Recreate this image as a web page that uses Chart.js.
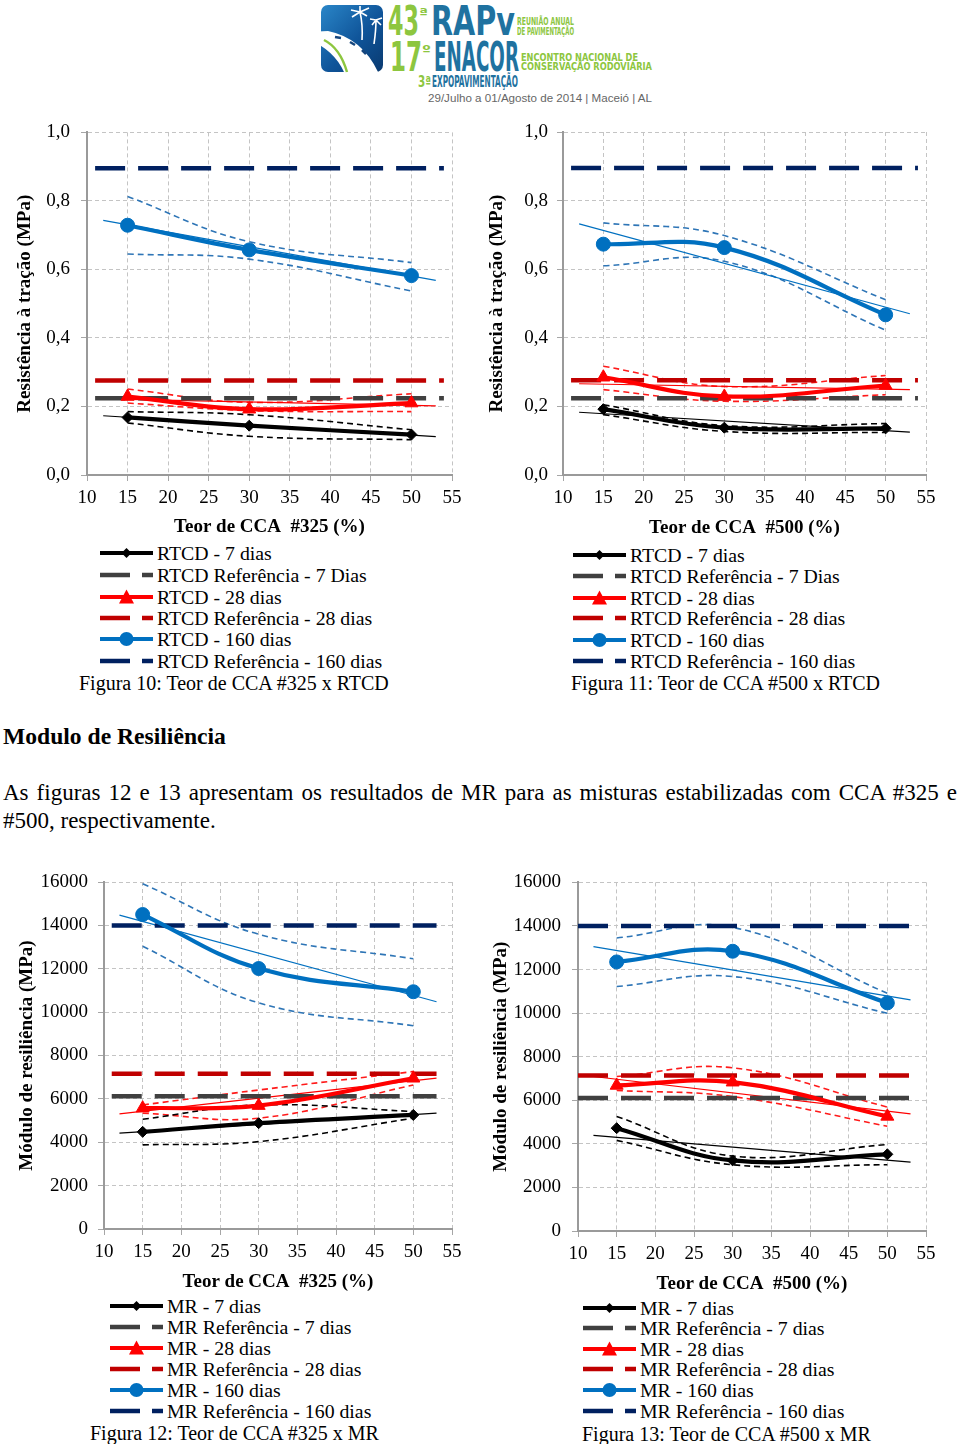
<!DOCTYPE html>
<html><head><meta charset="utf-8">
<script src="https://cdn.jsdelivr.net/npm/chart.js@4.4.1/dist/chart.umd.min.js"></script>
<style>
html,body{margin:0;padding:0;background:#fff;}
body{width:960px;height:1444px;position:relative;overflow:hidden;font-family:'Liberation Serif','Times New Roman',serif;color:#000;}
.abs{position:absolute;}
canvas{position:absolute;}
.leg{position:absolute;display:flex;align-items:center;height:22px;font-size:19.8px;line-height:22px;white-space:pre;}
.leg svg{margin-right:4px;flex:none;}
.cap{position:absolute;font-size:20px;line-height:22px;white-space:pre;}
#head{position:absolute;left:3px;top:722px;font-weight:bold;font-size:23.6px;line-height:28px;white-space:pre;}
#para{position:absolute;left:3px;top:779px;width:954px;font-size:23px;line-height:28px;}
#para .l1{display:block;text-align:justify;text-align-last:justify;}
</style></head><body>

<svg class="abs" style="left:300px;top:0" width="360" height="110" viewBox="0 0 360 110">
<defs>
<linearGradient id="gb" x1="0" y1="0" x2="1" y2="1"><stop offset="0" stop-color="#2a86c8"/><stop offset="0.55" stop-color="#0f5499"/><stop offset="1" stop-color="#0a3a70"/></linearGradient>
</defs>
<rect x="21" y="5" width="62" height="67" rx="7" fill="url(#gb)"/>
<path d="M8 32 L28 31 Q62 38 78 72 L44 72 Q34 50 8 39 Z" fill="#ffffff"/>
<path d="M24 40 Q40 48 47 72" stroke="#8dc63f" stroke-width="2.5" fill="none"/>
<path d="M35 37 l6 1 M50 42 l5 3 M62 50 l4 4" stroke="#16467e" stroke-width="2.5"/>
<path d="M62 40 Q63 25 60 12 M60 12 l-9 -2 M60 12 l-8 5 M60 12 l9 -4 M60 12 l7 4 M60 12 l0 -6 M74 44 Q76 30 76 20 M76 20 l-6 -1 M76 20 l6 -2 M76 20 l-4 5 M76 20 l5 5" stroke="#ffffff" stroke-width="1.6" fill="none"/>
<g font-family="'DejaVu Sans Condensed','DejaVu Sans',sans-serif" font-weight="bold">
<text x="88" y="35" font-size="40" fill="#8dc63f" textLength="31" lengthAdjust="spacingAndGlyphs">43</text>
<text x="119" y="17" font-size="13" fill="#8dc63f" textLength="9" lengthAdjust="spacingAndGlyphs">ª</text>
<text x="131" y="35" font-size="40" fill="#1f72a0" textLength="84" lengthAdjust="spacingAndGlyphs">RAPv</text>
<text x="217" y="25" font-size="10.5" fill="#8dc63f" textLength="57" lengthAdjust="spacingAndGlyphs">REUNIÃO ANUAL</text>
<text x="217" y="34.5" font-size="10.5" fill="#8dc63f" textLength="57" lengthAdjust="spacingAndGlyphs">DE PAVIMENTAÇÃO</text>
<text x="90" y="71" font-size="40" fill="#8dc63f" textLength="32" lengthAdjust="spacingAndGlyphs">17</text>
<text x="122" y="54" font-size="13" fill="#8dc63f" textLength="9" lengthAdjust="spacingAndGlyphs">º</text>
<text x="134" y="71" font-size="40" fill="#1f72a0" textLength="85" lengthAdjust="spacingAndGlyphs">ENACOR</text>
<text x="221" y="61" font-size="10.5" fill="#8dc63f" textLength="117" lengthAdjust="spacingAndGlyphs">ENCONTRO NACIONAL DE</text>
<text x="221" y="70" font-size="10.5" fill="#8dc63f" textLength="131" lengthAdjust="spacingAndGlyphs">CONSERVAÇÃO RODOVIÁRIA</text>
<text x="118" y="87" font-size="15" fill="#8dc63f" textLength="13" lengthAdjust="spacingAndGlyphs">3ª</text>
<text x="132" y="87" font-size="15" fill="#1f72a0" textLength="86" lengthAdjust="spacingAndGlyphs">EXPOPAVIMENTAÇÃO</text>
</g>
<text x="128" y="102" font-family="'Liberation Sans',Arial,sans-serif" font-size="11.5" fill="#666" textLength="224" lengthAdjust="spacingAndGlyphs">29/Julho a 01/Agosto de 2014  |  Maceió  |  AL</text>
</svg>

<canvas id="c1" width="480" height="430" style="left:0;top:110px"></canvas>
<canvas id="c2" width="480" height="430" style="left:480px;top:110px"></canvas>
<div id="head">Modulo de Resiliência</div>
<div id="para"><span class="l1">As figuras 12 e 13 apresentam os resultados de MR para as misturas estabilizadas com CCA #325 e</span>#500, respectivamente.</div>
<canvas id="c3" width="480" height="435" style="left:0;top:860px"></canvas>
<canvas id="c4" width="480" height="437" style="left:480px;top:860px"></canvas>
<div id="legends"></div>

<script>
// ---------- tick labels / categories ----------
const xTicks = [10, 15, 20, 25, 30, 35, 40, 45, 50, 55];
const yValsRT = [0, 0.2, 0.4, 0.6, 0.8, 1.0];
const yTicksRT = ['0,0', '0,2', '0,4', '0,6', '0,8', '1,0'];
const yValsMR = [0, 2000, 4000, 6000, 8000, 10000, 12000, 14000, 16000];
const yTicksMR = ['0', '2000', '4000', '6000', '8000', '10000', '12000', '14000', '16000'];
const teor = [15, 30, 50];          // Teor de CCA (%)
const trendX = [12, 53];            // linear trend line span

const legendRT = ['RTCD - 7 dias', 'RTCD Referência - 7 Dias', 'RTCD - 28 dias', 'RTCD Referência - 28 dias', 'RTCD - 160 dias', 'RTCD Referência - 160 dias'];
const legendMR = ['MR - 7 dias', 'MR Referência - 7 dias', 'MR - 28 dias', 'MR Referência - 28 dias', 'MR - 160 dias', 'MR Referência - 160 dias'];

// ---------- Figura 10: RTCD, CCA #325 ----------
const rt325_7 = [0.168, 0.144, 0.118];
const rt325_7_trend = [0.173, 0.112];
const rt325_7_up = [0.185, 0.176, 0.132];
const rt325_7_lo = [0.152, 0.113, 0.103];
const rt325_28 = [0.229, 0.192, 0.210];
const rt325_28_trend = [0.222, 0.202];
const rt325_28_up = [0.251, 0.212, 0.237];
const rt325_28_lo = [0.210, 0.188, 0.185];
const rt325_160 = [0.729, 0.657, 0.582];
const rt325_160_trend = [0.743, 0.568];
const rt325_160_up = [0.813, 0.681, 0.620];
const rt325_160_lo = [0.645, 0.630, 0.537];
const rt325_refX = [11, 54];
const rt325_ref = [0.224, 0.276, 0.895];   // 7, 28, 160 dias

// ---------- Figura 11: RTCD, CCA #500 ----------
const rt500_7 = [0.192, 0.138, 0.136];
const rt500_7_trend = [0.183, 0.125];
const rt500_7_up = [0.205, 0.144, 0.150];
const rt500_7_lo = [0.176, 0.127, 0.124];
const rt500_28 = [0.285, 0.229, 0.261];
const rt500_28_trend = [0.266, 0.249];
const rt500_28_up = [0.317, 0.258, 0.290];
const rt500_28_lo = [0.249, 0.215, 0.234];
const rt500_160 = [0.673, 0.663, 0.467];
const rt500_160_trend = [0.732, 0.470];
const rt500_160_up = [0.735, 0.698, 0.511];
const rt500_160_lo = [0.610, 0.623, 0.422];
const rt500_refX = [11, 54];
const rt500_ref = [0.224, 0.276, 0.895];

// ---------- Figura 12: MR, CCA #325 ----------
const mr325_7 = [4480, 4880, 5260];
const mr325_7_trend = [4420, 5340];
const mr325_7_up = [5060, 5720, 5420];
const mr325_7_lo = [3880, 4030, 5110];
const mr325_28 = [5570, 5690, 6950];
const mr325_28_trend = [5310, 6960];
const mr325_28_up = [5720, 6410, 7260];
const mr325_28_lo = [5340, 5110, 6640];
const mr325_160 = [14500, 12010, 10940];
const mr325_160_trend = [14470, 10480];
const mr325_160_up = [15920, 13590, 12460];
const mr325_160_lo = [13040, 10430, 9370];
const mr325_refX = [11, 53];
const mr325_ref = [6120, 7160, 14000];

// ---------- Figura 13: MR, CCA #500 ----------
const mr500_7 = [4720, 3240, 3520];
const mr500_7_trend = [4390, 3160];
const mr500_7_up = [5260, 3440, 3970];
const mr500_7_lo = [4160, 3040, 3040];
const mr500_28 = [6680, 6830, 5260];
const mr500_28_trend = [7090, 5380];
const mr500_28_up = [7090, 7490, 5690];
const mr500_28_lo = [6450, 6170, 4810];
const mr500_160 = [12350, 12840, 10470];
const mr500_160_trend = [13050, 10610];
const mr500_160_up = [13450, 13940, 10910];
const mr500_160_lo = [11220, 11680, 9990];
const mr500_refX = [10, 53];
const mr500_ref = [6100, 7140, 14000];

// ---------- styles ----------
const COL = {
  s7: '#000000', s28: '#ff0000', s160: '#0070c0',
  r7: '#404040', r28: '#c00000', r160: '#002060',
  b7: '#000000', b28: '#ff1a1a', b160: '#2e75b6'
};
const MARK = { s7: ['rectRot', 5.5], s28: ['triangle', 7.5], s160: ['circle', 7] };
const FONT = "'Liberation Serif','Times New Roman',serif";
Chart.defaults.font.family = FONT;

function pts(xs, ys) { return xs.map((x, i) => ({ x: x, y: ys[i] })); }

function buildSets(d) {
  const sets = [];
  const keys = ['7', '28', '160'];
  keys.forEach((k, idx) => {
    const s = 's' + k, b = 'b' + k, r = 'r' + k;
    sets.push({ data: pts(teor, d.main[idx]), borderColor: COL[s], backgroundColor: COL[s], borderWidth: 4.2,
      tension: 0.4, pointStyle: MARK[s][0], pointRadius: MARK[s][1], pointBorderWidth: 1, order: 0 });
    sets.push({ data: pts(d.refX, [d.ref[idx], d.ref[idx]]), borderColor: COL[r], borderWidth: 4.5,
      borderDash: [30, 13], pointRadius: 0, tension: 0, order: 1 });
    sets.push({ data: pts(trendX, d.trend[idx]), borderColor: COL[s], borderWidth: 1.2, pointRadius: 0, tension: 0, order: 2 });
    sets.push({ data: pts(teor, d.up[idx]), borderColor: COL[b], borderWidth: 1.6, borderDash: [6, 4], pointRadius: 0, tension: 0.4, order: 2 });
    sets.push({ data: pts(teor, d.lo[idx]), borderColor: COL[b], borderWidth: 1.6, borderDash: [6, 4], pointRadius: 0, tension: 0.4, order: 2 });
  });
  return sets;
}

function makeChart(id, d, o) {
  const yVals = o.mr ? yValsMR : yValsRT;
  const yLabs = o.mr ? yTicksMR : yTicksRT;
  return new Chart(document.getElementById(id), {
    type: 'line',
    data: { datasets: buildSets(d) },
    options: {
      responsive: false, animation: false, devicePixelRatio: 1,
      layout: { padding: { top: o.padTop, right: o.padRight, left: 0, bottom: 0 } },
      plugins: { legend: { display: false }, tooltip: { enabled: false } },
      scales: {
        x: {
          type: 'linear', min: 10, max: 55,
          afterBuildTicks: s => { s.ticks = xTicks.map(v => ({ value: v })); },
          afterFit: s => { s.height = o.xH; },
          ticks: { font: { size: 19 }, color: '#000', padding: o.xTickPad, maxRotation: 0, autoSkip: false, callback: (v, i) => String(xTicks[i]) },
          grid: { color: '#c4c4c4', lineWidth: 1, tickLength: 6, tickColor: '#a6a6a6' },
          border: { color: '#9a9a9a', width: 2, dash: [4, 3] },
          title: { display: true, text: o.xTitle, color: '#000', font: { size: 19, weight: 'bold' }, padding: { top: 0, bottom: o.xTitlePad } }
        },
        y: {
          type: 'linear', min: yVals[0], max: yVals[yVals.length - 1],
          afterBuildTicks: s => { s.ticks = yVals.map(v => ({ value: v })); },
          afterFit: s => { s.width = o.yW; },
          ticks: { font: { size: 19 }, color: '#000', padding: o.yTickPad, autoSkip: false, callback: (v, i) => yLabs[i] },
          grid: { color: '#c4c4c4', lineWidth: 1, tickLength: 6, tickColor: '#a6a6a6' },
          border: { color: '#9a9a9a', width: 2, dash: [4, 3] },
          title: { display: true, text: o.yTitle, color: '#000', font: { size: 19, weight: 'bold' }, padding: { top: o.yTitlePad, bottom: 0 } }
        }
      }
    }
  });
}

makeChart('c1', { main: [rt325_7, rt325_28, rt325_160], trend: [rt325_7_trend, rt325_28_trend, rt325_160_trend],
  up: [rt325_7_up, rt325_28_up, rt325_160_up], lo: [rt325_7_lo, rt325_28_lo, rt325_160_lo], refX: rt325_refX, ref: rt325_ref },
  { mr: false, padTop: 22, padRight: 28, yW: 87, xH: 65, yTitlePad: 13.6, yTickPad: 11, xTickPad: 6, xTitlePad: 1.2,
    xTitle: 'Teor de CCA  #325 (%)', yTitle: 'Resistência à tração (MPa)' });
makeChart('c2', { main: [rt500_7, rt500_28, rt500_160], trend: [rt500_7_trend, rt500_28_trend, rt500_160_trend],
  up: [rt500_7_up, rt500_28_up, rt500_160_up], lo: [rt500_7_lo, rt500_28_lo, rt500_160_lo], refX: rt500_refX, ref: rt500_ref },
  { mr: false, padTop: 22, padRight: 34, yW: 83, xH: 65, yTitlePad: 5.6, yTickPad: 9, xTickPad: 6, xTitlePad: 0.4,
    xTitle: 'Teor de CCA  #500 (%)', yTitle: 'Resistência à tração (MPa)' });
makeChart('c3', { main: [mr325_7, mr325_28, mr325_160], trend: [mr325_7_trend, mr325_28_trend, mr325_160_trend],
  up: [mr325_7_up, mr325_28_up, mr325_160_up], lo: [mr325_7_lo, mr325_28_lo, mr325_160_lo], refX: mr325_refX, ref: mr325_ref },
  { mr: true, padTop: 22, padRight: 28, yW: 104, xH: 66, yTitlePad: 15.6, yTickPad: 10, xTickPad: 5.6, xTitlePad: 1.6,
    xTitle: 'Teor de CCA  #325 (%)', yTitle: 'Módulo de resiliência (MPa)' });
makeChart('c4', { main: [mr500_7, mr500_28, mr500_160], trend: [mr500_7_trend, mr500_28_trend, mr500_160_trend],
  up: [mr500_7_up, mr500_28_up, mr500_160_up], lo: [mr500_7_lo, mr500_28_lo, mr500_160_lo], refX: mr500_refX, ref: mr500_ref },
  { mr: true, padTop: 22, padRight: 34, yW: 98, xH: 66, yTitlePad: 9.6, yTickPad: 11, xTickPad: 5.6, xTitlePad: 1.6,
    xTitle: 'Teor de CCA  #500 (%)', yTitle: 'Módulo de resiliência (MPa)' });

// ---------- HTML legends & captions ----------
function symbol(i) {
  const kinds = ['s7', 'r7', 's28', 'r28', 's160', 'r160'];
  const k = kinds[i];
  let inner;
  if (k[0] === 'r') {
    inner = '<line x1="0" y1="8" x2="53" y2="8" stroke="' + COL[k] + '" stroke-width="4.5" stroke-dasharray="30 12"/>';
  } else {
    inner = '<line x1="0" y1="8" x2="53" y2="8" stroke="' + COL[k] + '" stroke-width="4"/>';
    if (k === 's7') inner += '<polygon points="26.5,3 31.5,8 26.5,13 21.5,8" fill="#000"/>';
    if (k === 's28') inner += '<polygon points="26.5,0.5 34,14.5 19,14.5" fill="' + COL.s28 + '"/>';
    if (k === 's160') inner += '<circle cx="26.5" cy="8" r="7" fill="' + COL.s160 + '"/>';
  }
  return '<svg width="53" height="16" viewBox="0 0 53 16">' + inner + '</svg>';
}
function legend(x, rowsY, labels, capX, capY, caption) {
  let h = '';
  labels.forEach((t, i) => {
    h += '<div class="leg" style="left:' + x + 'px;top:' + (rowsY[i] - 11) + 'px">' + symbol(i) + '<span>' + t + '</span></div>';
  });
  h += '<div class="cap" style="left:' + capX + 'px;top:' + (capY - 11) + 'px">' + caption + '</div>';
  return h;
}
document.getElementById('legends').innerHTML =
  legend(100, [553, 575, 597, 618, 639, 661], legendRT, 79, 683, 'Figura 10: Teor de CCA #325 x RTCD') +
  legend(573, [555, 576, 598, 618, 640, 661], legendRT, 571, 683, 'Figura 11: Teor de CCA #500 x RTCD') +
  legend(110, [1306, 1327, 1348, 1369, 1390, 1411], legendMR, 90, 1433, 'Figura 12: Teor de CCA #325 x MR') +
  legend(583, [1308, 1328, 1349, 1369, 1390, 1411], legendMR, 582, 1434, 'Figura 13: Teor de CCA #500 x MR');
</script>
</body></html>
